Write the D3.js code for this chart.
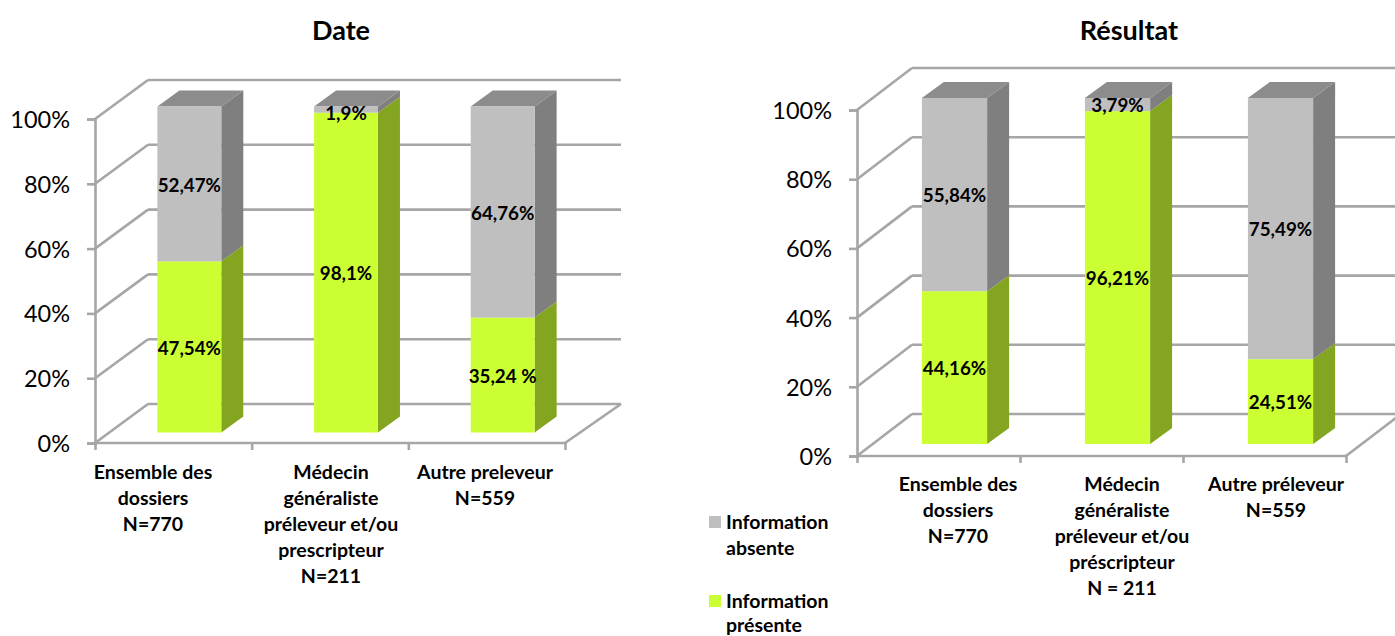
<!DOCTYPE html>
<html><head><meta charset="utf-8">
<script src="https://cdnjs.cloudflare.com/ajax/libs/d3/7.8.5/d3.min.js"></script>
<style>html,body{margin:0;padding:0;background:#fff}svg{display:block}text{font-family:Lato,"Open Sans",sans-serif;fill:#000}</style>
</head><body><svg id="c" width="1395" height="636"></svg>
<script>
// Data
const seriesNames = ["Information présente", "Information absente"];
const titles = ["Date", "Résultat"];
const yTicks = [0, 20, 40, 60, 80, 100];
const dateCategories = [
  ["Ensemble des", "dossiers", "N=770"],
  ["Médecin", "généraliste", "préleveur et/ou", "prescripteur", "N=211"],
  ["Autre preleveur", "N=559"]];
const resultCategories = [
  ["Ensemble des", "dossiers", "N=770"],
  ["Médecin", "généraliste", "préleveur et/ou", "préscripteur", "N = 211"],
  ["Autre préleveur", "N=559"]];
// Drawn heights
const datePresent = [52.5, 98.1, 35.24];
const dateAbsent = [47.5, 1.9, 64.76];
const resultPresent = [44.16, 96.21, 24.51];
const resultAbsent = [55.84, 3.79, 75.49];
// Printed labels
const datePresentLabels = ["47,54%", "98,1%", "35,24 %"];
const dateAbsentLabels = ["52,47%", "1,9%", "64,76%"];
const resultPresentLabels = ["44,16%", "96,21%", "24,51%"];
const resultAbsentLabels = ["55,84%", "3,79%", "75,49%"];

const colors = {
  present: {front: "#ccff33", side: "#84a51f"},
  absent: {front: "#bfbfbf", side: "#7f7f7f", top: "#8c8c8c"},
  grid: "#a6a6a6"
};
const svg = d3.select("#c");

function chart(o) {
  const g = svg.append("g");
  const y = d3.scaleLinear().domain([0, 100]).range([o.y0, o.y100]);
  const x = d3.scaleBand().domain(d3.range(3)).range([o.x0, o.x1]).paddingInner(o.pad).paddingOuter(o.pad / 2);
  const yBar = d3.scaleLinear().domain([0, 100]).range([o.barBottom, o.barTop]);
  const line = (x1, y1, x2, y2) => g.append("line").attr("x1", x1).attr("y1", y1).attr("x2", x2).attr("y2", y2)
    .attr("stroke", colors.grid).attr("stroke-width", 2.6);

  // walls
  yTicks.forEach(t => {
    const yy = y(t);
    line(o.x0, yy, o.x0 + o.dx, yy - o.dy);
    line(o.x0 + o.dx, yy - o.dy, o.backEnd, yy - o.dy);
  });
  line(o.x1, o.y0, o.backEnd, o.y0 - o.dy);

  // axes
  const ay = g.append("g").attr("transform", `translate(${o.x0},0)`)
    .call(d3.axisLeft(y).tickValues(yTicks).tickFormat(d => d + "%").tickSize(8).tickPadding(17));
  ay.selectAll("path,line").attr("stroke", colors.grid).attr("stroke-width", 2.6);
  ay.selectAll("text").attr("font-size", 23.5).attr("style", "font-family:Lato,sans-serif").attr("dy", "0.36em");
  const stepTicks = d3.range(4).map(i => o.x0 + i * x.step());
  const ax = d3.axisBottom(d3.scaleIdentity()).tickValues(stepTicks).tickFormat("").tickSize(7).tickSizeOuter(0);
  const axG = g.append("g").attr("transform", `translate(0,${o.y0})`).call(ax);
  axG.select(".domain").attr("d", `M${o.x0},0H${o.x1}`);
  axG.selectAll("path,line").attr("stroke", colors.grid).attr("stroke-width", 2.6);

  // bars
  const w = x.bandwidth();
  const poly = (pts, fill) => g.append("polygon").attr("points", pts.map(p => p.join(",")).join(" ")).attr("fill", fill);
  o.present.forEach((p, i) => {
    const L = x(i) + o.shift, R = L + w;
    const b = yBar(0), m = yBar(p), t = yBar(100);
    poly([[R, b], [R + o.bdx, b - o.bdy], [R + o.bdx, m - o.bdy], [R, m]], colors.present.side);
    poly([[R, m], [R + o.bdx, m - o.bdy], [R + o.bdx, t - o.bdy], [R, t]], colors.absent.side);
    poly([[L, t], [L + o.bdx, t - o.bdy], [R + o.bdx, t - o.bdy], [R, t]], colors.absent.top);
    g.append("rect").attr("x", L).attr("y", m).attr("width", w).attr("height", b - m).attr("fill", colors.present.front);
    g.append("rect").attr("x", L).attr("y", t).attr("width", w).attr("height", m - t).attr("fill", colors.absent.front);
  });
  const barLabel = (s, cy, i) => g.append("text").attr("x", x(i) + o.shift + w / 2).attr("y", cy)
    .attr("dy", "0.36em").attr("text-anchor", "middle").attr("font-weight", 700).attr("font-size", 18.8).text(s);
  o.present.forEach((p, i) => {
    barLabel(o.presentLabels[i], (yBar(0) + yBar(p)) / 2 + 1, i);
    const mid = (yBar(p) + yBar(100)) / 2;
    barLabel(o.absentLabels[i], mid + (o.absent[i] < 3 ? 4 : 1), i);
  });

  // category labels
  o.cats.forEach((lines, i) => {
    lines.forEach((s, j) => g.append("text").attr("x", o.catX[i]).attr("y", o.catY + j * 26)
      .attr("dy", "0.36em").attr("text-anchor", "middle").attr("font-weight", 700).attr("font-size", 19.5).text(s));
  });
  // title
  g.append("text").attr("x", o.titleX).attr("y", o.titleY).attr("dy", "0.36em").attr("text-anchor", "middle")
    .attr("font-weight", 700).attr("font-size", 27).text(o.title);
}

chart({title: titles[0], titleX: 341, titleY: 30, x0: 95, x1: 565, y0: 443, y100: 119, dx: 53, dy: 39, backEnd: 621,
  pad: 0.592, shift: 16, barBottom: 432.5, barTop: 106.5, bdx: 22, bdy: 16,
  present: datePresent, absent: dateAbsent, presentLabels: datePresentLabels, absentLabels: dateAbsentLabels,
  cats: dateCategories, catX: [153, 331, 485], catY: 472});
chart({title: titles[1], titleX: 1129, titleY: 30, x0: 857, x1: 1346, y0: 456, y100: 110, dx: 55, dy: 42, backEnd: 1401,
  pad: 0.6, shift: 16, barBottom: 444, barTop: 98, bdx: 22, bdy: 16,
  present: resultPresent, absent: resultAbsent, presentLabels: resultPresentLabels, absentLabels: resultAbsentLabels,
  cats: resultCategories, catX: [958, 1122, 1276], catY: 484});

// legend
const legendItems = [
  {name: seriesNames[1], fill: colors.absent.front, y: 516, gap: 26},
  {name: seriesNames[0], fill: colors.present.front, y: 595, gap: 24}];
const lg = svg.append("g");
legendItems.forEach(d => {
  lg.append("rect").attr("x", 709).attr("y", d.y).attr("width", 12).attr("height", 12).attr("fill", d.fill);
  d.name.split(" ").forEach((s, j) => lg.append("text").attr("x", 726).attr("y", d.y + 6 + j * d.gap)
    .attr("dy", "0.36em").attr("font-weight", 700).attr("font-size", 19.5).text(s));
});
</script></body></html>
